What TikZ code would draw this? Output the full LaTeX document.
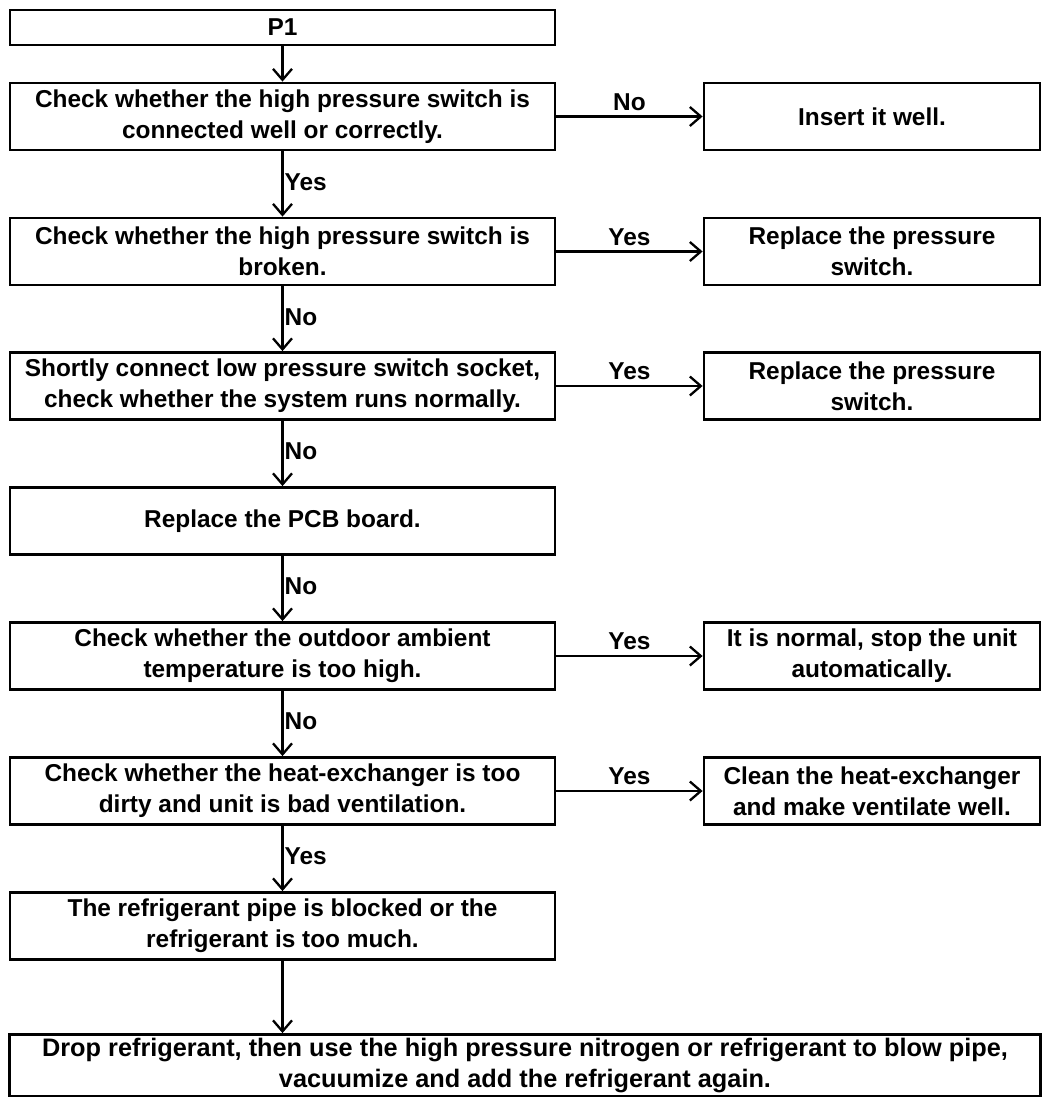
\documentclass[tikz,border=0pt]{standalone}
\usepackage{fontspec}
\setmainfont{Liberation Sans}
\usetikzlibrary{arrows.meta}
\begin{document}
\begin{tikzpicture}[x=1pt,y=-1pt,
  box/.style={draw,line width=2.8pt,rectangle,inner sep=0pt,align=center,
    font=\fontsize{24.4}{31}\selectfont\bfseries},
  lbox/.style={box,minimum width=545pt,minimum height=67pt},
  rbox/.style={box,minimum width=336pt,minimum height=67pt},
  arr/.style={line width=2.3pt,-{Straight Barb[length=11pt,width=19pt,line width=2.3pt]}},
  lab/.style={font=\fontsize{24.4}{28}\selectfont\bfseries,inner sep=1pt}]
\useasboundingbox (0,0) rectangle (1043,1097);
\node[lbox,minimum height=35pt] (p1) at (282.5,27.5) {P1};
\node[lbox] (c1) at (282.5,116.5) {Check whether the high pressure switch is\\connected well or correctly.};
\node[rbox] (r1) at (872,116.5) {Insert it well.};
\node[lbox] (c2) at (282.5,251.5) {Check whether the high pressure switch is\\broken.};
\node[rbox] (r2) at (872,251.5) {Replace the pressure\\switch.};
\node[lbox] (c3) at (282.5,386) {Shortly connect low pressure switch socket,\\check whether the system runs normally.};
\node[rbox] (r3) at (872,386) {Replace the pressure\\switch.};
\node[lbox] (c4) at (282.5,521) {Replace the PCB board.};
\node[lbox] (c5) at (282.5,656) {Check whether the outdoor ambient\\temperature is too high.};
\node[rbox] (r5) at (872,656) {It is normal, stop the unit\\automatically.};
\node[lbox] (c6) at (282.5,791) {Check whether the heat-exchanger is too\\dirty and unit is bad ventilation.};
\node[rbox] (r6) at (872,791) {Clean the heat-exchanger\\and make ventilate well.};
\node[lbox] (c7) at (282.5,926) {The refrigerant pipe is blocked or the\\refrigerant is too much.};
\node[box,minimum width=1031pt,minimum height=62pt,font=\fontsize{25.3}{31}\selectfont\bfseries] (c8) at (525,1065.5) {Drop refrigerant, then use the high pressure nitrogen or refrigerant to blow pipe,\\vacuumize and add the refrigerant again.};
\draw[arr] (p1) -- (c1);
\draw[arr] (c1) -- node[lab,anchor=west,pos=0.47]{Yes} (c2);
\draw[arr] (c2) -- node[lab,anchor=west,pos=0.47]{No} (c3);
\draw[arr] (c3) -- node[lab,anchor=west,pos=0.47]{No} (c4);
\draw[arr] (c4) -- node[lab,anchor=west,pos=0.47]{No} (c5);
\draw[arr] (c5) -- node[lab,anchor=west,pos=0.47]{No} (c6);
\draw[arr] (c6) -- node[lab,anchor=west,pos=0.47]{Yes} (c7);
\draw[arr] (c7) -- (c7 |- c8.north);
\draw[arr] (c1) -- node[lab,above=4pt]{No} (r1);
\draw[arr] (c2) -- node[lab,above=4pt]{Yes} (r2);
\draw[arr] (c3) -- node[lab,above=4pt]{Yes} (r3);
\draw[arr] (c5) -- node[lab,above=4pt]{Yes} (r5);
\draw[arr] (c6) -- node[lab,above=4pt]{Yes} (r6);
\end{tikzpicture}
\end{document}
